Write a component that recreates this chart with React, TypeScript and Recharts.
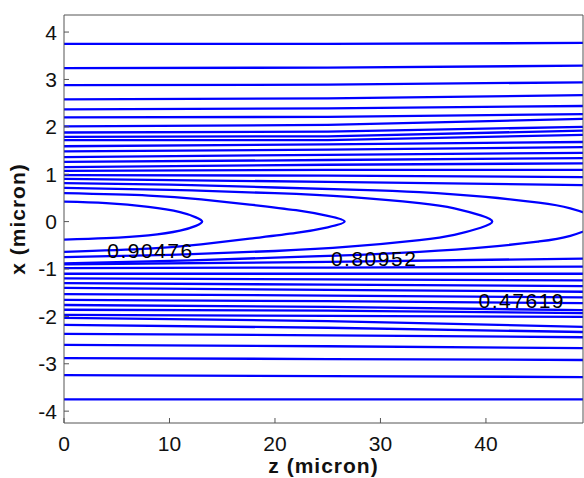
import React from 'react';
import { LineChart, Line, XAxis, YAxis, ReferenceDot } from 'recharts';

const zTicks = [0, 10, 20, 30, 40];
const xTicks = [-4, -3, -2, -1, 0, 1, 2, 3, 4];
const zStations = [0, 25, 49.2];

// nearly flat contour lines (x at z = 0, 25, 49.2)
const upperLeft = [3.75, 3.24, 2.88, 2.58, 2.37, 2.2, 2.01, 1.88, 1.79, 1.72, 1.59, 1.48, 1.36, 1.26, 1.15, 1.07, 0.98, 0.9];
const upperMid = [3.75, 3.25, 2.89, 2.6, 2.39, 2.21, 2.04, 1.9, 1.8, 1.72, 1.63, 1.52, 1.41, 1.3, 1.2, 1.09, 0.97, 0.84];
const upperRight = [3.77, 3.29, 2.94, 2.67, 2.44, 2.27, 2.17, 2.0, 1.92, 1.83, 1.68, 1.57, 1.45, 1.34, 1.23, 1.09, 0.94, 0.77];
const lowerLeft = [-3.75, -3.24, -2.88, -2.6, -2.37, -2.18, -2.03, -1.97, -1.86, -1.76, -1.65, -1.53, -1.4, -1.3, -1.2, -1.1, -0.98, -0.9];
const lowerMid = [-3.75, -3.26, -2.9, -2.63, -2.4, -2.24, -2.1, -1.99, -1.88, -1.8, -1.68, -1.56, -1.44, -1.33, -1.22, -1.1, -0.97, -0.85];
const lowerRight = [-3.75, -3.28, -2.92, -2.67, -2.44, -2.33, -2.22, -2.01, -1.93, -1.87, -1.72, -1.6, -1.48, -1.36, -1.24, -1.1, -0.95, -0.78];

// closed (parabola-like) contours near the axis
const contourA = [
  { z: 0, x: 0.42 }, { z: 4, x: 0.39 }, { z: 8, x: 0.31 }, { z: 11, x: 0.2 }, { z: 12.5, x: 0.09 }, { z: 13.1, x: 0 },
  { z: 12.5, x: -0.09 }, { z: 11, x: -0.19 }, { z: 8, x: -0.29 }, { z: 4, x: -0.35 }, { z: 0, x: -0.38 },
];
const contourB = [
  { z: 0, x: 0.6 }, { z: 8, x: 0.55 }, { z: 13, x: 0.47 }, { z: 17.6, x: 0.36 }, { z: 22, x: 0.24 }, { z: 25, x: 0.12 }, { z: 26.6, x: 0 },
  { z: 25, x: -0.12 }, { z: 22, x: -0.24 }, { z: 17.6, x: -0.36 }, { z: 13, x: -0.48 }, { z: 8, x: -0.57 }, { z: 0, x: -0.64 },
];
const contourC = [
  { z: 0, x: 0.71 }, { z: 10, x: 0.67 }, { z: 20, x: 0.6 }, { z: 27, x: 0.52 }, { z: 33.7, x: 0.39 }, { z: 37, x: 0.28 }, { z: 39.5, x: 0.13 }, { z: 40.6, x: 0 },
  { z: 39.5, x: -0.13 }, { z: 37, x: -0.28 }, { z: 33.7, x: -0.39 }, { z: 27, x: -0.53 }, { z: 20, x: -0.62 }, { z: 10, x: -0.7 }, { z: 0, x: -0.75 },
];
const contourD = [
  { z: 0, x: 0.81 }, { z: 10, x: 0.78 }, { z: 20, x: 0.72 }, { z: 28, x: 0.67 }, { z: 33.7, x: 0.62 }, { z: 40, x: 0.52 }, { z: 45, x: 0.4 }, { z: 48, x: 0.28 }, { z: 50.5, x: 0 },
  { z: 48, x: -0.3 }, { z: 45, x: -0.42 }, { z: 40, x: -0.54 }, { z: 33.7, x: -0.64 }, { z: 28, x: -0.7 }, { z: 20, x: -0.76 }, { z: 10, x: -0.83 }, { z: 0, x: -0.88 },
];

const labelTexts = ['0.90476', '0.80952', '0.47619'];
const labelZ = [8.2, 29.4, 43.4];
const labelX = [-0.62, -0.77, -1.67];

const flatLines = [
  ...upperLeft.map((v, i) => [
    { z: zStations[0], x: v }, { z: zStations[1], x: upperMid[i] }, { z: zStations[2], x: upperRight[i] },
  ]),
  ...lowerLeft.map((v, i) => [
    { z: zStations[0], x: v }, { z: zStations[1], x: lowerMid[i] }, { z: zStations[2], x: lowerRight[i] },
  ]),
];
const closedLines = [contourA, contourB, contourC, contourD];

const BLUE = '#0000ff';
const AXIS = '#555';
const FONT = '"Liberation Sans", Arial, Helvetica, sans-serif';

export default function App() {
  return (
    <div style={{ position: 'absolute', left: 0, top: 0, background: '#fff' }}>
      <LineChart width={584} height={478} margin={{ top: 14, right: 0, bottom: 0, left: 0 }}>
        <XAxis
          xAxisId="b"
          dataKey="z"
          type="number"
          domain={[0, 49.2]}
          allowDataOverflow
          ticks={zTicks}
          orientation="bottom"
          height={55}
          tickSize={-5}
          tickMargin={18}
          stroke={AXIS}
          tick={{ fill: '#111', fontSize: 21, fontFamily: FONT }}
          label={{ value: 'z (micron)', position: 'insideBottom', offset: 5, fill: '#111', fontSize: 21, fontWeight: 'bold', fontFamily: FONT, letterSpacing: 1 }}
        />
        <XAxis
          xAxisId="t"
          dataKey="z"
          type="number"
          domain={[0, 49.2]}
          allowDataOverflow
          ticks={zTicks}
          orientation="top"
          height={1}
          tickSize={-5}
          tick={false}
          stroke={AXIS}
        />
        <YAxis
          yAxisId="l"
          type="number"
          domain={[-4.25, 4.36]}
          allowDataOverflow
          ticks={xTicks}
          width={64}
          tickSize={-5}
          tickMargin={12}
          stroke={AXIS}
          tick={{ fill: '#111', fontSize: 21, fontFamily: FONT }}
          label={{ value: 'x (micron)', angle: -90, position: 'center', dx: -14, fill: '#111', fontSize: 21, fontWeight: 'bold', fontFamily: FONT, letterSpacing: 1 }}
        />
        <YAxis
          yAxisId="r"
          type="number"
          orientation="right"
          domain={[-4.25, 4.36]}
          allowDataOverflow
          ticks={xTicks}
          width={1}
          tickSize={-5}
          tick={false}
          stroke={AXIS}
        />
        {flatLines.map((d, i) => (
          <Line
            key={'f' + i}
            xAxisId="b"
            yAxisId="l"
            data={d}
            dataKey="x"
            type="linear"
            stroke={BLUE}
            strokeWidth={2.3}
            dot={false}
            activeDot={false}
            isAnimationActive={false}
          />
        ))}
        {closedLines.map((d, i) => (
          <Line
            key={'c' + i}
            xAxisId="b"
            yAxisId="l"
            data={d}
            dataKey="x"
            type="natural"
            stroke={BLUE}
            strokeWidth={2.3}
            dot={false}
            activeDot={false}
            isAnimationActive={false}
          />
        ))}
        {labelTexts.map((t, i) => (
          <ReferenceDot
            key={'lab' + i}
            xAxisId="b"
            yAxisId="l"
            x={labelZ[i]}
            y={labelX[i]}
            r={0}
            fill="none"
            stroke="none"
            label={{ value: t, position: 'center', fill: '#000', fontSize: 21, fontFamily: FONT, letterSpacing: 1.5 }}
          />
        ))}
      </LineChart>
    </div>
  );
}
